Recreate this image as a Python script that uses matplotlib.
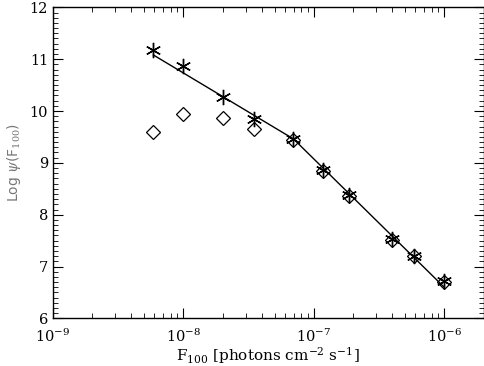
import numpy as np
import matplotlib.pyplot as plt
from matplotlib.ticker import MultipleLocator, LogLocator, NullFormatter

# data
flux = [5.9e-9, 1.0e-8, 2.0e-8, 3.5e-8, 6.9e-8, 1.17e-7, 1.85e-7, 4.0e-7, 5.9e-7, 1.0e-6]
log_psi_star = [11.17, 10.86, 10.27, 9.84, 9.47, 8.86, 8.38, 7.53, 7.21, 6.73]
log_psi_diam = [9.60, 9.94, 9.86, 9.66, 9.45, 8.84, 8.36, 7.51, 7.20, 6.71]

fit_x = [5.9e-9, 7.0e-8, 1.0e-6]
fit_y = [11.08, 9.46, 6.60]

plt.rcParams['font.family'] = 'DejaVu Serif'
plt.rcParams['mathtext.fontset'] = 'dejavuserif'

fig = plt.figure(figsize=(4.85, 3.66), dpi=100)
ax = fig.add_axes([0.109, 0.13, 0.888, 0.85])

ax.plot(fit_x, fit_y, color='black', lw=1.0)
ax.plot(flux, log_psi_star, ls='none', marker=(6, 2, 0), ms=11, mec='black', mew=1.0)
ax.plot(flux, log_psi_diam, ls='none', marker='D', ms=7, mfc='none', mec='black', mew=0.9)

ax.set_xscale('log')
ax.set_xlim(1e-9, 2e-6)
ax.set_ylim(6, 12)

ax.yaxis.set_major_locator(MultipleLocator(1))
ax.yaxis.set_minor_locator(MultipleLocator(0.1))
ax.xaxis.set_major_locator(LogLocator(base=10, numticks=10))
ax.xaxis.set_minor_locator(LogLocator(base=10, subs=np.arange(2, 10), numticks=20))
ax.xaxis.set_minor_formatter(NullFormatter())
ax.xaxis.get_offset_text().set_visible(False)
ax.yaxis.get_offset_text().set_visible(False)

ax.tick_params(which='both', direction='in', top=True, right=True, labelsize=10.5)
ax.tick_params(axis='x', which='major', pad=7)
ax.tick_params(which='major', length=7, width=0.8)
ax.tick_params(which='minor', length=3.5, width=0.6)
for s in ax.spines.values():
    s.set_linewidth(1.0)

ax.set_xlabel(r'F$_{100}$ [photons cm$^{-2}$ s$^{-1}$]', fontsize=11, labelpad=0)
ax.set_ylabel(r'Log $\psi$(F$_{100}$)', fontsize=10, color='#777777',
              family='DejaVu Sans', labelpad=5)

fig.savefig('out.png', dpi=100)
